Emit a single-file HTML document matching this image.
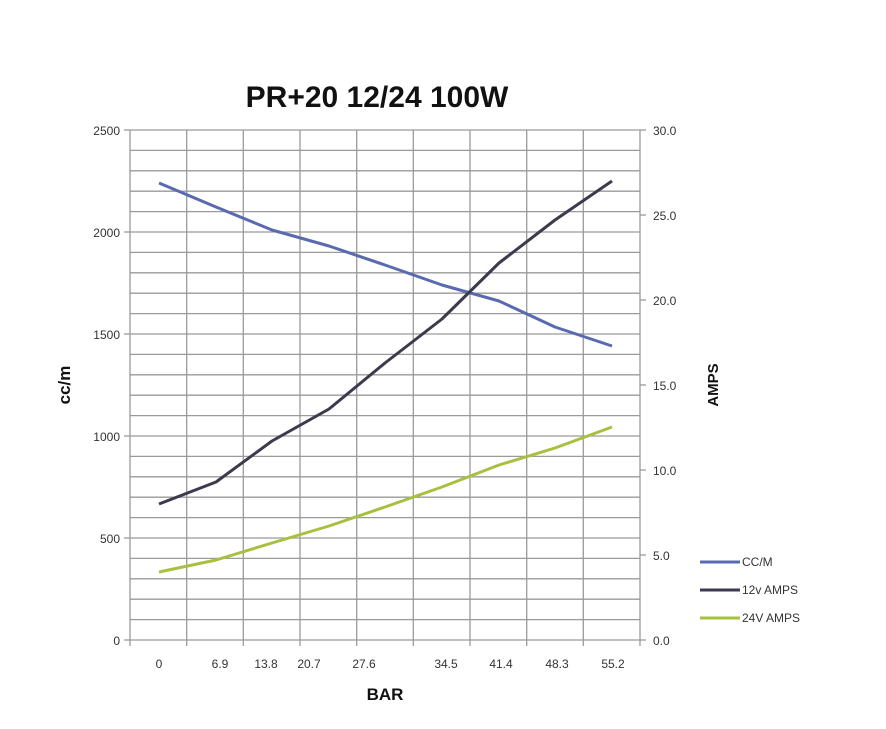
<!DOCTYPE html>
<html><head><meta charset="utf-8"><style>body{margin:0;background:#fff}</style></head><body>
<svg width="886" height="724" xmlns="http://www.w3.org/2000/svg" font-family="Liberation Sans, sans-serif">
<rect width="886" height="724" fill="#fff"/>
<text x="377" y="107" font-size="30" font-weight="bold" text-anchor="middle" fill="#111">PR+20 12/24 100W</text>
<g stroke="#9a9a9a" stroke-width="1.3">
<line x1="130" y1="130.0" x2="640" y2="130.0"/><line x1="130" y1="150.4" x2="640" y2="150.4"/><line x1="130" y1="170.8" x2="640" y2="170.8"/><line x1="130" y1="191.2" x2="640" y2="191.2"/><line x1="130" y1="211.6" x2="640" y2="211.6"/><line x1="130" y1="232.0" x2="640" y2="232.0"/><line x1="130" y1="252.4" x2="640" y2="252.4"/><line x1="130" y1="272.8" x2="640" y2="272.8"/><line x1="130" y1="293.2" x2="640" y2="293.2"/><line x1="130" y1="313.6" x2="640" y2="313.6"/><line x1="130" y1="334.0" x2="640" y2="334.0"/><line x1="130" y1="354.4" x2="640" y2="354.4"/><line x1="130" y1="374.8" x2="640" y2="374.8"/><line x1="130" y1="395.2" x2="640" y2="395.2"/><line x1="130" y1="415.6" x2="640" y2="415.6"/><line x1="130" y1="436.0" x2="640" y2="436.0"/><line x1="130" y1="456.4" x2="640" y2="456.4"/><line x1="130" y1="476.8" x2="640" y2="476.8"/><line x1="130" y1="497.2" x2="640" y2="497.2"/><line x1="130" y1="517.6" x2="640" y2="517.6"/><line x1="130" y1="538.0" x2="640" y2="538.0"/><line x1="130" y1="558.4" x2="640" y2="558.4"/><line x1="130" y1="578.8" x2="640" y2="578.8"/><line x1="130" y1="599.2" x2="640" y2="599.2"/><line x1="130" y1="619.6" x2="640" y2="619.6"/><line x1="130" y1="640.0" x2="640" y2="640.0"/>
<line x1="130" y1="130" x2="130" y2="646"/><line x1="186.7" y1="130" x2="186.7" y2="646"/><line x1="243.3" y1="130" x2="243.3" y2="646"/><line x1="300" y1="130" x2="300" y2="646"/><line x1="356.7" y1="130" x2="356.7" y2="646"/><line x1="413.3" y1="130" x2="413.3" y2="646"/><line x1="470" y1="130" x2="470" y2="646"/><line x1="526.7" y1="130" x2="526.7" y2="646"/><line x1="583.3" y1="130" x2="583.3" y2="646"/><line x1="640" y1="130" x2="640" y2="646"/>
<line x1="124" y1="130" x2="130" y2="130"/><line x1="124" y1="232" x2="130" y2="232"/><line x1="124" y1="334" x2="130" y2="334"/><line x1="124" y1="436" x2="130" y2="436"/><line x1="124" y1="538" x2="130" y2="538"/><line x1="124" y1="640" x2="130" y2="640"/>
<line x1="640" y1="130" x2="646" y2="130"/><line x1="640" y1="215" x2="646" y2="215"/><line x1="640" y1="300" x2="646" y2="300"/><line x1="640" y1="385" x2="646" y2="385"/><line x1="640" y1="470" x2="646" y2="470"/><line x1="640" y1="555" x2="646" y2="555"/><line x1="640" y1="640" x2="646" y2="640"/>
</g>
<g font-size="12" fill="#333" text-anchor="end">
<text x="120" y="135">2500</text><text x="120" y="237">2000</text><text x="120" y="339">1500</text><text x="120" y="441">1000</text><text x="120" y="543">500</text><text x="120" y="645">0</text>
</g>
<g font-size="12" fill="#333">
<text x="653" y="135">30.0</text><text x="653" y="220">25.0</text><text x="653" y="305">20.0</text><text x="653" y="390">15.0</text><text x="653" y="475">10.0</text><text x="653" y="560">5.0</text><text x="653" y="645">0.0</text>
</g>
<g font-size="12" fill="#333" text-anchor="middle">
<text x="159" y="668">0</text><text x="220" y="668">6.9</text><text x="266" y="668">13.8</text><text x="309" y="668">20.7</text><text x="364" y="668">27.6</text><text x="446" y="668">34.5</text><text x="501" y="668">41.4</text><text x="557" y="668">48.3</text><text x="613" y="668">55.2</text>
</g>
<text x="385" y="700" font-size="17" font-weight="bold" text-anchor="middle" fill="#111">BAR</text>
<text transform="translate(70,385) rotate(-90)" font-size="17" font-weight="bold" text-anchor="middle" fill="#111">cc/m</text>
<text transform="translate(718,385) rotate(-90)" font-size="15" font-weight="bold" text-anchor="middle" fill="#111">AMPS</text>
<g fill="none" stroke-width="3" stroke-linejoin="round">
<polyline stroke="#5a6ab0" points="159,183 216,207 272,230 329,246 385,265 442,285 499,301 555,327 612,346"/>
<polyline stroke="#3c3a4c" points="159,504 216,482 272,441 329,409 385,363 442,319 499,263 555,220 612,181"/>
<polyline stroke="#a8c040" points="159,572 216,560 272,543 329,526 385,507 442,487 499,465 555,448 612,427"/>
</g>
<g stroke-width="3">
<line x1="700" y1="562" x2="740" y2="562" stroke="#5a6ab0"/>
<line x1="700" y1="590" x2="740" y2="590" stroke="#3c3a4c"/>
<line x1="700" y1="618" x2="740" y2="618" stroke="#a8c040"/>
</g>
<g font-size="12" fill="#333">
<text x="742" y="566">CC/M</text><text x="742" y="594">12v AMPS</text><text x="742" y="622">24V AMPS</text>
</g>
</svg>
</body></html>
